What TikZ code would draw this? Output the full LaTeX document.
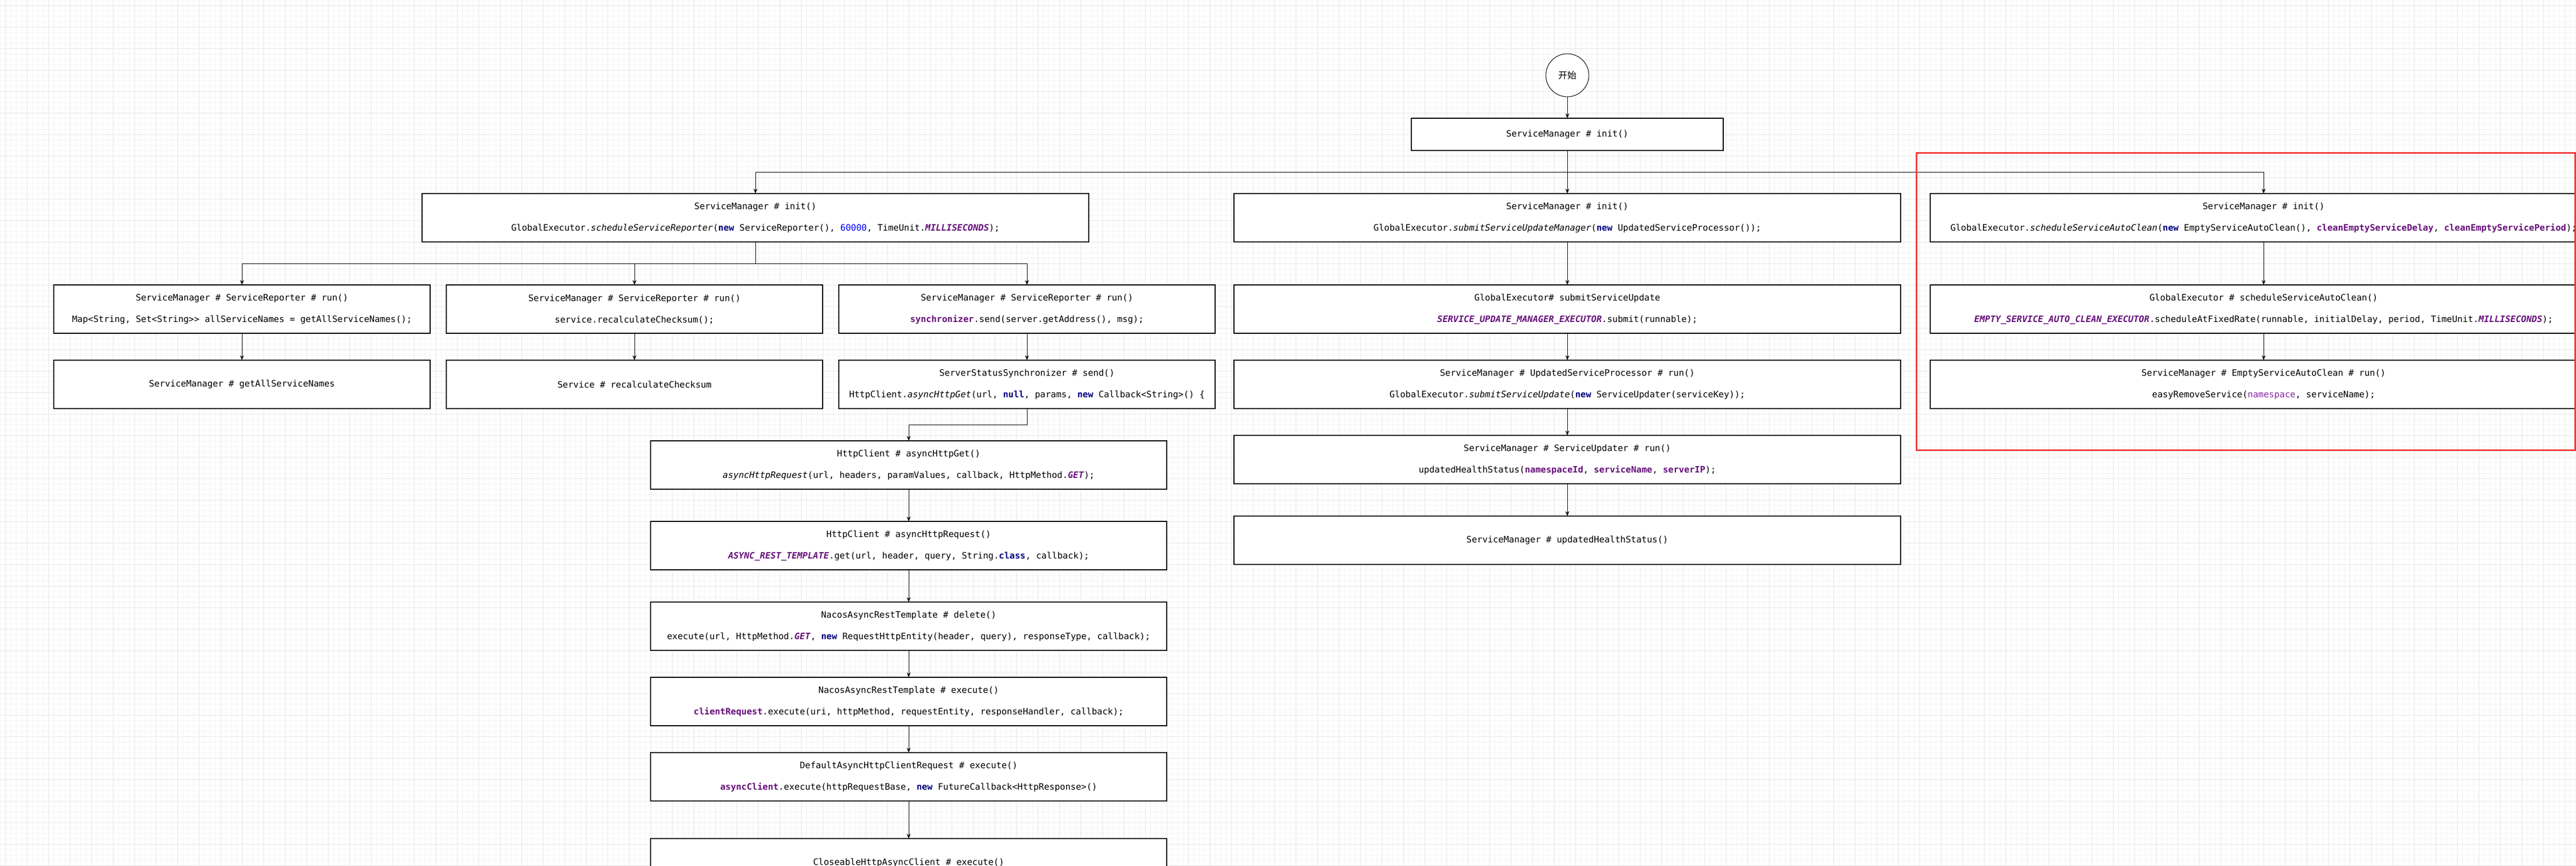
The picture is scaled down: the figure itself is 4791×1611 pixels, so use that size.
\documentclass[tikz,border=0pt]{standalone}
\usepackage{fontspec}
\setmonofont{DejaVu Sans Mono}
\newfontfamily\cjk{Noto Sans CJK SC}
\usetikzlibrary{arrows.meta}
\definecolor{kwblue}{HTML}{000080}
\definecolor{fieldpurple}{HTML}{660E7A}
\definecolor{numblue}{HTML}{0000FF}
\definecolor{parampurple}{HTML}{8A2BA8}
\definecolor{redframe}{HTML}{F23A3A}
\definecolor{gridminor}{HTML}{F4F4F4}
\definecolor{gridmajor}{HTML}{E6E6E6}
\newcommand\kw[1]{\textcolor{kwblue}{\textbf{#1}}}
\newcommand\fld[1]{\textcolor{fieldpurple}{\textbf{#1}}}
\newcommand\cst[1]{\textcolor{fieldpurple}{\textbf{\textit{#1}}}}
\newcommand\cnum[1]{\textcolor{numblue}{#1}}
\newcommand\prm[1]{\textcolor{parampurple}{#1}}
\tikzset{
  codebox/.style={draw=black, line width=1.3pt, fill=white, inner sep=0pt, outer sep=0pt,
    minimum height=90, align=center, font=\ttfamily\fontsize{16.4}{40}\selectfont},
  wbox/.style={codebox, minimum width=1240},
  mbox/.style={codebox, minimum width=700},
  hbox/.style={codebox, minimum width=960},
  conn/.style={draw=black, line width=1pt, -{Stealth[length=9pt,width=7pt]}},
  minorgrid/.style={draw=gridminor, line width=1pt},
  majorgrid/.style={draw=gridmajor, line width=1pt},
}
\begin{document}
\begin{tikzpicture}[x=1pt,y=-1pt]
\useasboundingbox (0,0) rectangle (4791,1611);
\clip (0,0) rectangle (4791,1611);
\fill[white] (0,0) rectangle (4791,1611);
% grid
\foreach \i in {0,10,...,4790} \draw[minorgrid] (\i+0.5,0) -- (\i+0.5,1611);
\foreach \i in {0,10,...,1610} \draw[minorgrid] (0,\i+0.5) -- (4791,\i+0.5);
\foreach \i in {10,50,...,4790} \draw[majorgrid] (\i+0.5,0) -- (\i+0.5,1611);
\foreach \i in {10,50,...,1610} \draw[majorgrid] (0,\i+0.5) -- (4791,\i+0.5);

% start
\node[circle, draw=black, line width=1pt, fill=white, minimum size=80, inner sep=0pt,
      font=\cjk\fontsize{17}{20}\selectfont] (start) at (2915,140) {开始};
\node[codebox, minimum width=580, minimum height=60] (init) at (2915,250) {ServiceManager \# init()};

% row 2
\node[wbox] (A) at (1405,405) {ServiceManager \# init()\\GlobalExecutor.\textit{scheduleServiceReporter}(\kw{new} ServiceReporter(), \cnum{60000}, TimeUnit.\cst{MILLISECONDS});};
\node[wbox] (B) at (2915,405) {ServiceManager \# init()\\GlobalExecutor.\textit{submitServiceUpdateManager}(\kw{new} UpdatedServiceProcessor());};
\node[wbox] (C) at (4210,405) {ServiceManager \# init()\\GlobalExecutor.\textit{scheduleServiceAutoClean}(\kw{new} EmptyServiceAutoClean(), \fld{cleanEmptyServiceDelay}, \fld{cleanEmptyServicePeriod});};

% left branch
\node[mbox] (r3a) at (450,575) {ServiceManager \# ServiceReporter \# run()\\Map<String, Set<String>{}> allServiceNames = getAllServiceNames();};
\node[mbox] (r3b) at (1180,575) {ServiceManager \# ServiceReporter \# run()\\service.recalculateChecksum();};
\node[mbox] (r3c) at (1910,575) {ServiceManager \# ServiceReporter \# run()\\\fld{synchronizer}.send(server.getAddress(), msg);};
\node[mbox] (r4a) at (450,715) {ServiceManager \# getAllServiceNames};
\node[mbox] (r4b) at (1180,715) {Service \# recalculateChecksum};
\node[mbox] (r4c) at (1910,715) {ServerStatusSynchronizer \# send()\\HttpClient.\textit{asyncHttpGet}(url, \kw{null}, params, \kw{new} Callback<String>() \{};

% http chain
\node[hbox] (h1) at (1690,865) {HttpClient \# asyncHttpGet()\\\textit{asyncHttpRequest}(url, headers, paramValues, callback, HttpMethod.\cst{GET});};
\node[hbox] (h2) at (1690,1015) {HttpClient \# asyncHttpRequest()\\\cst{ASYNC\_REST\_TEMPLATE}.get(url, header, query, String.\kw{class}, callback);};
\node[hbox] (h3) at (1690,1165) {NacosAsyncRestTemplate \# delete()\\execute(url, HttpMethod.\cst{GET}, \kw{new} RequestHttpEntity(header, query), responseType, callback);};
\node[hbox] (h4) at (1690,1305) {NacosAsyncRestTemplate \# execute()\\\fld{clientRequest}.execute(uri, httpMethod, requestEntity, responseHandler, callback);};
\node[hbox] (h5) at (1690,1445) {DefaultAsyncHttpClientRequest \# execute()\\\fld{asyncClient}.execute(httpRequestBase, \kw{new} FutureCallback<HttpResponse>()};
\node[hbox] (h6) at (1690,1605) {CloseableHttpAsyncClient \# execute()};

% middle chain
\node[wbox] (m2) at (2915,575) {GlobalExecutor\# submitServiceUpdate\\\cst{SERVICE\_UPDATE\_MANAGER\_EXECUTOR}.submit(runnable);};
\node[wbox] (m3) at (2915,715) {ServiceManager \# UpdatedServiceProcessor \# run()\\GlobalExecutor.\textit{submitServiceUpdate}(\kw{new} ServiceUpdater(serviceKey));};
\node[wbox] (m4) at (2915,855) {ServiceManager \# ServiceUpdater \# run()\\updatedHealthStatus(\fld{namespaceId}, \fld{serviceName}, \fld{serverIP});};
\node[wbox] (m5) at (2915,1005) {ServiceManager \# updatedHealthStatus()};

% right chain
\node[wbox] (c2) at (4210,575) {GlobalExecutor \# scheduleServiceAutoClean()\\\cst{EMPTY\_SERVICE\_AUTO\_CLEAN\_EXECUTOR}.scheduleAtFixedRate(runnable, initialDelay, period, TimeUnit.\cst{MILLISECONDS});};
\node[wbox] (c3) at (4210,715) {ServiceManager \# EmptyServiceAutoClean \# run()\\easyRemoveService(\prm{namespace}, serviceName);};

% connectors
\draw[conn] (start) -- (init);
\draw[conn] (init.south) -- ++(0,40) -| (A.north);
\draw[conn] (init) -- (B);
\draw[conn] (init.south) -- ++(0,40) -| (C.north);
\draw[conn] (A.south) -- ++(0,40) -| (r3a.north);
\draw[conn] (A.south) -- ++(0,40) -| (r3b.north);
\draw[conn] (A.south) -- ++(0,40) -| (r3c.north);
\draw[conn] (r3a) -- (r4a);
\draw[conn] (r3b) -- (r4b);
\draw[conn] (r3c) -- (r4c);
\draw[conn] (r4c.south) -- ++(0,30) -| (h1.north);
\draw[conn] (h1) -- (h2);
\draw[conn] (h2) -- (h3);
\draw[conn] (h3) -- (h4);
\draw[conn] (h4) -- (h5);
\draw[conn] (h5) -- (h6);
\draw[conn] (B) -- (m2);
\draw[conn] (m2) -- (m3);
\draw[conn] (m3) -- (m4);
\draw[conn] (m4) -- (m5);
\draw[conn] (C) -- (c2);
\draw[conn] (c2) -- (c3);

% red frame
\draw[draw=redframe, line width=3pt] (3564,284) rectangle (4789,837);
\end{tikzpicture}
\end{document}
